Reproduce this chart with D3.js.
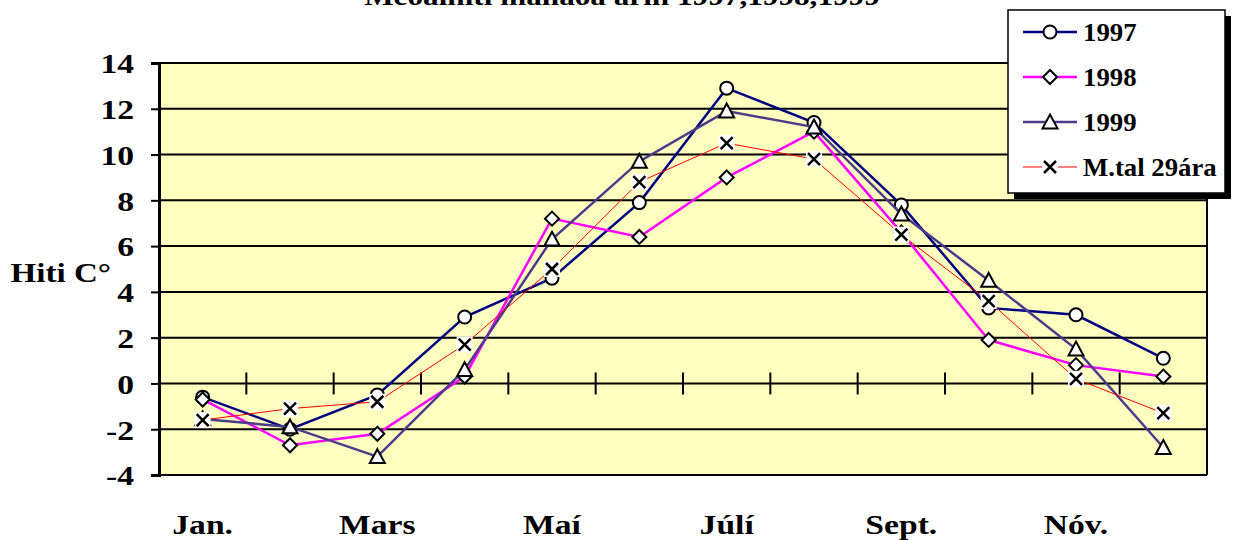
<!DOCTYPE html>
<html><head><meta charset="utf-8">
<script src="https://cdn.jsdelivr.net/npm/d3@7/dist/d3.min.js"></script>
<style>body{margin:0;background:#fff}svg{display:block}text{font-family:"Liberation Serif","Times New Roman",serif !important;font-weight:bold}</style>
</head><body><svg id="c" width="1238" height="540"></svg>
<script>
const months = ["Jan.","Feb.","Mars","Apríl","Maí","Júní","Júlí","Ágúst","Sept.","Okt.","Nóv.","Des."];
const monthLabels = ["Jan.","","Mars","","Maí","","Júlí","","Sept.","","Nóv.",""];
const yTicks = [-4,-2,0,2,4,6,8,10,12,14];
const s1997 = [-0.6,-2.0,-0.5,2.9,4.6,7.9,12.9,11.4,7.8,3.3,3.0,1.1];
const s1998 = [-0.7,-2.7,-2.2,0.3,7.2,6.4,9.0,11.0,6.6,1.9,0.8,0.3];
const s1999 = [-1.55,-1.9,-3.2,0.6,6.3,9.7,11.9,11.2,7.4,4.5,1.5,-2.8];
const sMean = [-1.6,-1.1,-0.8,1.7,5.0,8.8,10.5,9.8,6.5,3.6,0.2,-1.3];
const seriesNames = ["1997","1998","1999","M.tal 29ára"];
const title = "Meðalhiti mánaða árin 1997,1998,1999";
const yTitle = "Hiti C°";

const series = [
  {name:seriesNames[0], values:s1997, color:"#000080", width:2.5, marker:"circle"},
  {name:seriesNames[1], values:s1998, color:"#FF00FF", width:2.5, marker:"diamond"},
  {name:seriesNames[2], values:s1999, color:"#4B3B8A", width:2.5, marker:"triangle"},
  {name:seriesNames[3], values:sMean, color:"#FF0000", width:1, marker:"x"}
];

const svg = d3.select("#c");
const L=159, R=1207, T=63, B=475;
const x = d3.scaleBand().domain(months).range([L,R]);
const y = d3.scaleLinear().domain([-4,14]).range([B,T]);
const cx = m => x(m)+x.bandwidth()/2;

function stretch(sel, k){
  sel.each(function(){
    if(!this.textContent) return;
    const len = this.getComputedTextLength();
    d3.select(this).attr("textLength", len*k).attr("lengthAdjust","spacingAndGlyphs");
  });
}

svg.append("rect").attr("x",L).attr("y",T).attr("width",R-L).attr("height",B-T)
  .attr("fill","#FFFFC0");

svg.append("g").selectAll("line").data(yTicks).join("line")
  .attr("x1",L).attr("x2",R).attr("y1",d=>y(d)).attr("y2",d=>y(d))
  .attr("stroke","#000").attr("stroke-width",2);
svg.append("line").attr("x1",R).attr("x2",R).attr("y1",T).attr("y2",B).attr("stroke","#000").attr("stroke-width",2);

const yAxis = d3.axisLeft(y).tickValues(yTicks).tickSize(8).tickPadding(10).tickFormat(d=>String(d));
const gy = svg.append("g").attr("transform",`translate(${L},0)`).call(yAxis);
gy.attr("font-family",null).attr("font-size",null);
gy.select(".domain").attr("stroke","#000").attr("stroke-width",3);
gy.selectAll(".tick line").attr("stroke","#000").attr("stroke-width",2);
gy.selectAll(".tick text").attr("font-size",28).attr("fill","#000").attr("dy","0.35em").attr("x",-25);
stretch(gy.selectAll(".tick text"), 1.2);

const bounds = months.slice(1).map(m=>x(m));
svg.append("g").selectAll("line").data(bounds).join("line")
  .attr("x1",d=>d).attr("x2",d=>d).attr("y1",y(0)-11).attr("y2",y(0)+11)
  .attr("stroke","#000").attr("stroke-width",2);

const ml = svg.append("g").selectAll("text").data(months).join("text")
  .attr("x",d=>cx(d)).attr("y",534).attr("text-anchor","middle")
  .attr("font-size",28).attr("fill","#000")
  .text((d,i)=>monthLabels[i]);
stretch(ml, 1.2);

const yt = svg.append("text").attr("x",111).attr("y",282).attr("text-anchor","end")
  .attr("font-size",28).attr("fill","#000").text(yTitle);
stretch(yt, 1.18);

const tt = svg.append("text").attr("x",622).attr("y",5).attr("text-anchor","middle")
  .attr("font-size",26).attr("fill","#000").text(title);
stretch(tt, 1.2);

function drawMarker(g, type, px, py){
  if(type==="circle"){
    g.append("circle").attr("cx",px).attr("cy",py).attr("r",6.5).attr("fill","#fff").attr("stroke","#000").attr("stroke-width",2);
  } else if(type==="diamond"){
    const s=7;
    g.append("path").attr("d",`M${px},${py-s}L${px+s},${py}L${px},${py+s}L${px-s},${py}Z`).attr("fill","#fff").attr("stroke","#000").attr("stroke-width",2);
  } else if(type==="triangle"){
    const s=7.5;
    g.append("path").attr("d",`M${px},${py-s}L${px+s},${py+s*0.85}L${px-s},${py+s*0.85}Z`).attr("fill","#fff").attr("stroke","#000").attr("stroke-width",2);
  } else if(type==="x"){
    const s=8, a=6;
    g.append("rect").attr("x",px-s).attr("y",py-s).attr("width",2*s).attr("height",2*s).attr("fill","#fff");
    g.append("path").attr("d",`M${px-a},${py-a}L${px+a},${py+a}M${px+a},${py-a}L${px-a},${py+a}`).attr("stroke","#000").attr("stroke-width",2.5);
  }
}

const line = d3.line().x((d,i)=>cx(months[i])).y(d=>y(d));
series.forEach(s=>{
  const g = svg.append("g");
  g.append("path").attr("d",line(s.values)).attr("fill","none").attr("stroke",s.color).attr("stroke-width",s.width);
  s.values.forEach((v,i)=>drawMarker(g,s.marker,cx(months[i]),y(v)));
});

const lg = svg.append("g");
const LX=1008, LY=10, LW=217, LH=183;
lg.append("rect").attr("x",LX+6).attr("y",LY+6).attr("width",LW).attr("height",LH).attr("fill","#000");
lg.append("rect").attr("x",LX).attr("y",LY).attr("width",LW).attr("height",LH).attr("fill","#fff").attr("stroke","#000").attr("stroke-width",1.5);
series.forEach((s,i)=>{
  const yy = LY+22+i*45;
  lg.append("line").attr("x1",1023).attr("x2",1077).attr("y1",yy).attr("y2",yy).attr("stroke",s.color).attr("stroke-width",s.width);
  drawMarker(lg,s.marker,1050,yy);
  const t = lg.append("text").attr("x",1083).attr("y",yy+9).attr("font-size",25).attr("fill","#000").text(s.name);
  stretch(t, 1.07);
});
</script></body></html>
